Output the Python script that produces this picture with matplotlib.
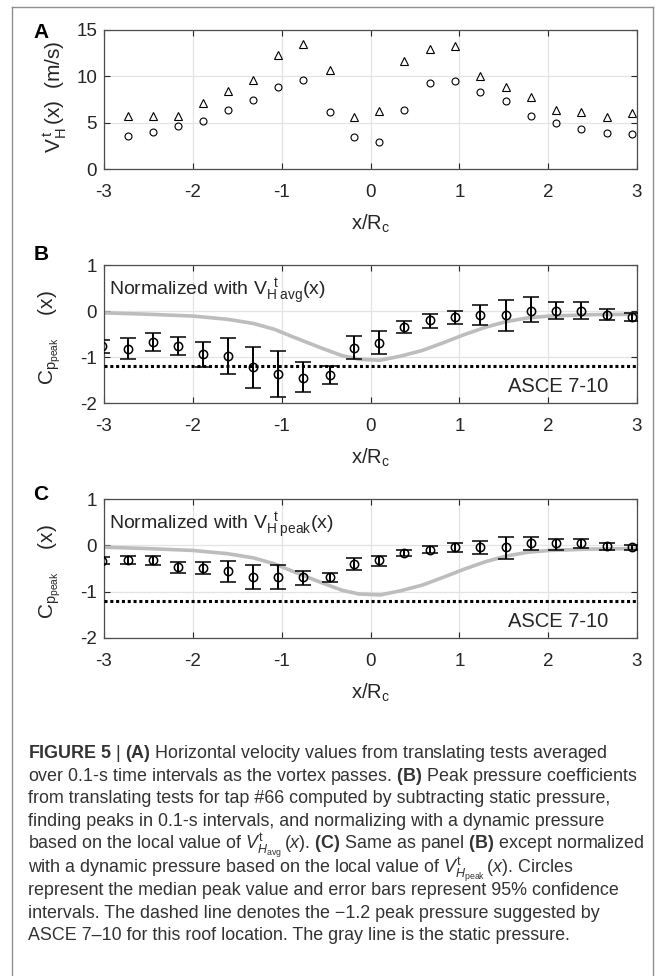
import matplotlib
matplotlib.use("Agg")
import matplotlib.pyplot as plt
from matplotlib.lines import Line2D

plt.rcParams['font.family'] = ['Liberation Sans', 'DejaVu Sans']
plt.rcParams['mathtext.fontset'] = 'custom'
plt.rcParams['mathtext.rm'] = 'Liberation Sans'
plt.rcParams['mathtext.it'] = 'Liberation Sans:italic'
plt.rcParams['mathtext.bf'] = 'Liberation Sans:bold'
plt.rcParams['axes.unicode_minus'] = False

# positions along the path, x/Rc (first one lies just outside the axes)
x_pos = [-3.02, -2.73, -2.45, -2.17, -1.89, -1.60, -1.32, -1.04, -0.76, -0.46, -0.19,
         0.10, 0.38, 0.67, 0.95, 1.23, 1.52, 1.81, 2.09, 2.37, 2.66, 2.94]

# panel A: horizontal velocity (m/s)
v_peak = [5.7, 5.7, 5.7, 7.1, 8.4, 9.6, 12.3, 13.5, 10.7, 5.6, 6.3,
          11.7, 13.0, 13.3, 10.0, 8.8, 7.8, 6.4, 6.1, 5.6, 6.0]
v_avg = [3.6, 4.0, 4.6, 5.2, 6.4, 7.4, 8.9, 9.6, 6.2, 3.5, 2.9,
         6.4, 9.3, 9.5, 8.3, 7.3, 5.7, 5.0, 4.3, 3.9, 3.8]

# panel B: Cp peak normalized with V_H avg (median, lower, upper)
cpb_med = [-0.76, -0.82, -0.67, -0.76, -0.93, -0.97, -1.22, -1.36, -1.45, -1.40, -0.80,
           -0.69, -0.34, -0.20, -0.13, -0.09, -0.09, 0.01, 0.01, 0.01, -0.08, -0.14]
cpb_lo = [-0.91, -1.05, -0.87, -0.95, -1.22, -1.37, -1.67, -1.86, -1.77, -1.59, -1.05,
          -0.93, -0.48, -0.36, -0.28, -0.31, -0.44, -0.24, -0.18, -0.17, -0.20, -0.22]
cpb_hi = [-0.62, -0.59, -0.48, -0.57, -0.68, -0.59, -0.78, -0.86, -1.11, -1.20, -0.55,
          -0.44, -0.22, -0.07, 0.01, 0.12, 0.24, 0.30, 0.20, 0.20, 0.04, -0.05]

# panel C: Cp peak normalized with V_H peak
cpc_med = [-0.33, -0.31, -0.32, -0.47, -0.49, -0.55, -0.68, -0.68, -0.69, -0.69, -0.40,
           -0.32, -0.16, -0.09, -0.04, -0.04, -0.04, 0.04, 0.04, 0.04, -0.02, -0.04]
cpc_lo = [-0.41, -0.41, -0.42, -0.59, -0.62, -0.80, -0.95, -0.95, -0.86, -0.79, -0.53,
          -0.45, -0.24, -0.16, -0.14, -0.18, -0.29, -0.09, -0.09, -0.06, -0.09, -0.09]
cpc_hi = [-0.25, -0.22, -0.23, -0.36, -0.36, -0.33, -0.43, -0.43, -0.56, -0.60, -0.27,
          -0.22, -0.09, -0.02, 0.06, 0.09, 0.19, 0.17, 0.14, 0.13, 0.05, 0.01]

# static pressure (gray line)
xs = [-3.0, -2.51, -2.0, -1.61, -1.32, -1.08, -0.85, -0.56, -0.32, -0.13, 0.11,
      0.34, 0.58, 0.82, 1.06, 1.30, 1.53, 1.77, 2.01, 2.49, 3.0]
cps = [-0.04, -0.07, -0.11, -0.18, -0.27, -0.40, -0.58, -0.80, -0.97, -1.05, -1.07,
       -0.98, -0.86, -0.69, -0.51, -0.35, -0.23, -0.15, -0.11, -0.08, -0.07]

asce = -1.2

W, H = 663, 976
fig = plt.figure(figsize=(W / 100, H / 100), dpi=100)

dark = '#262626'


def make_axes(top, bottom):
    ax = fig.add_axes([104 / W, 1 - bottom / H, 533 / W, (bottom - top) / H])
    ax.set_xlim(-3, 3)
    ax.set_xticks([-3, -2, -1, 0, 1, 2, 3])
    ax.grid(True, color='#e3e3e3', lw=0.9)
    ax.set_axisbelow(True)
    ax.tick_params(direction='in', length=4, width=0.8, top=True, right=True,
                   labelsize=13.5, colors=dark, labelcolor=dark)
    ax.tick_params(axis='x', pad=11)
    ax.tick_params(axis='y', pad=5)
    for s in ax.spines.values():
        s.set_color('#4d4d4d')
        s.set_linewidth(0.9)
    ax.set_xlabel(r'$\mathregular{x/R_c}$', fontsize=14.5, color=dark, labelpad=8)
    return ax


# panel A
axA = make_axes(30, 169)
axA.plot(x_pos[1:], v_peak, ls='none', marker='^', ms=6, mfc='none', mec='k', mew=0.8)
axA.plot(x_pos[1:], v_avg, ls='none', marker='o', ms=5, mfc='none', mec='k', mew=0.8)
axA.set_ylim(0, 15)
axA.set_yticks([0, 5, 10, 15])
axA.set_ylabel(r'$\mathregular{V_H^{\,t}\,(x)\ \ (m/s)}$', fontsize=15, color=dark)
axA.yaxis.set_label_coords(-0.068, 0.52)


def cp_panel(ax, med, lo, hi, note):
    ax.plot(xs, cps, color='#bdbdbd', lw=2.6, solid_capstyle='butt', zorder=2)
    ax.axhline(asce, color='k', lw=2.2, ls=(0, (1, 0.9)), zorder=3)
    yerr = [[m - l for m, l in zip(med, lo)], [h - m for m, h in zip(med, hi)]]
    ax.errorbar(x_pos, med, yerr=yerr, fmt='o', ms=6, mfc='none', mec='k', mew=1.1,
                ecolor='k', elinewidth=1.4, capsize=6, capthick=1.4, zorder=4)
    ax.set_ylim(-2, 1)
    ax.set_yticks([-2, -1, 0, 1])
    ax.set_ylabel(r'$\mathregular{C_{p_{peak}}}$    (x)', fontsize=15, color=dark)
    ax.yaxis.set_label_coords(-0.077, 0.475)
    ax.text(-2.94, 0.36, note, fontsize=14, color=dark, ha='left', va='baseline')
    ax.text(2.68, -1.76, 'ASCE 7-10', fontsize=14.5, color=dark, ha='right', va='baseline')


axB = make_axes(265, 403)
cp_panel(axB, cpb_med, cpb_lo, cpb_hi,
         r'Normalized with V$_{\mathregular{H\ avg}}^{\mathregular{\ \ t}}$(x)')

axC = make_axes(499, 638)
cp_panel(axC, cpc_med, cpc_lo, cpc_hi,
         r'Normalized with V$_{\mathregular{H\ peak}}^{\mathregular{\ \ t}}$(x)')

# panel letters
for lab, y in [('A', 33), ('B', 254), ('C', 494)]:
    fig.text(41 / W, 1 - y / H, lab, fontsize=15, fontweight='bold', color='k',
             ha='center', va='center')

# outer frame
fc = '#8f8f8f'
fig.add_artist(Line2D([12 / W, 12 / W], [0, 1 - 7 / H], color=fc, lw=1, transform=fig.transFigure))
fig.add_artist(Line2D([12 / W, 653 / W], [1 - 7 / H, 1 - 7 / H], color=fc, lw=1, transform=fig.transFigure))
fig.add_artist(Line2D([653 / W, 653 / W], [0, 1 - 7 / H], color=fc, lw=1, transform=fig.transFigure))

# caption
caption = [
    r'$\mathbf{FIGURE\ 5}$ | $\mathbf{(A)}$ Horizontal velocity values from translating tests averaged',
    r'over 0.1-s time intervals as the vortex passes. $\mathbf{(B)}$ Peak pressure coefficients',
    r'from translating tests for tap #66 computed by subtracting static pressure,',
    r'finding peaks in 0.1-s intervals, and normalizing with a dynamic pressure',
    r'based on the local value of $V^{\mathregular{t}}_{H_{\mathregular{avg}}}\,(x)$. '
    r'$\mathbf{(C)}$ Same as panel $\mathbf{(B)}$ except normalized',
    r'with a dynamic pressure based on the local value of $V^{\mathregular{t}}_{H_{\mathregular{peak}}}\,(x)$. Circles',
    r'represent the median peak value and error bars represent 95% confidence',
    r'intervals. The dashed line denotes the −1.2 peak pressure suggested by',
    r'ASCE 7–10 for this roof location. The gray line is the static pressure.',
]
baselines = [758, 781, 803, 826, 849, 873, 895, 918, 940]
for line, yb in zip(caption, baselines):
    fig.text(28 / W, 1 - yb / H, line, fontsize=12.9, color='#333333',
             ha='left', va='baseline')

fig.savefig('out.png', dpi=100)
